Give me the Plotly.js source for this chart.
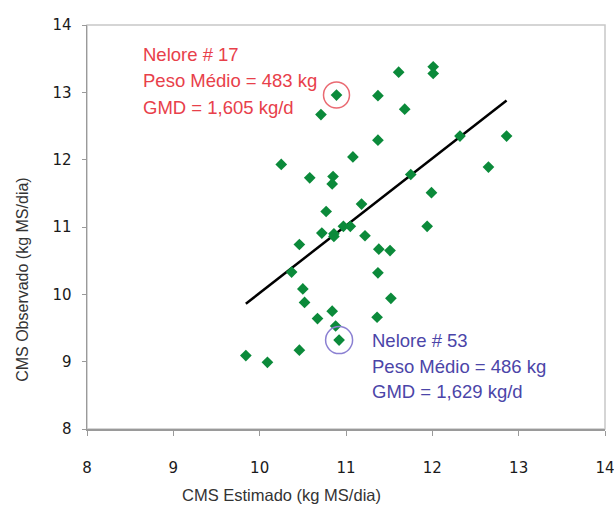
<!DOCTYPE html>
<html>
<head>
<meta charset="utf-8">
<script src="https://cdn.plot.ly/plotly-3.0.1.min.js"></script>
<style>html,body{margin:0;padding:0;background:#fff;}#chart{width:614px;height:507px;}</style>
</head>
<body>
<div id="chart"></div>
<script>
// CMS Estimado (x) vs CMS Observado (y), kg MS/dia
const estimado = [10.89, 10.71, 10.25, 11.08, 10.58, 10.85, 10.84, 10.77, 11.18, 11.61,
                  12.01, 12.01, 11.37, 11.68, 11.37, 12.86, 12.32, 12.65, 11.75, 11.99,
                  11.94, 10.97, 11.05, 10.72, 10.86, 10.86, 10.46, 10.37, 10.50, 10.52,
                  10.67, 10.84, 10.88, 10.92, 10.46, 9.84, 10.09, 11.22, 11.38, 11.51,
                  11.37, 11.52, 11.36];
const observado = [12.96, 12.67, 11.93, 12.04, 11.73, 11.75, 11.64, 11.23, 11.34, 13.30,
                   13.38, 13.28, 12.95, 12.75, 12.29, 12.35, 12.35, 11.89, 11.78, 11.51,
                   11.01, 11.01, 11.01, 10.91, 10.90, 10.86, 10.74, 10.33, 10.08, 9.88,
                   9.64, 9.75, 9.53, 9.32, 9.17, 9.09, 8.99, 10.87, 10.67, 10.65,
                   10.32, 9.94, 9.66];
// regression line end points
const lineX = [9.84, 12.86];
const lineY = [9.86, 12.88];
// highlighted animals
const nelore17X = [10.89], nelore17Y = [12.96];
const nelore53X = [10.92], nelore53Y = [9.32];
const label17 = ["Nelore # 17", "Peso Médio = 483 kg", "GMD = 1,605 kg/d"];
const label53 = ["Nelore # 53", "Peso Médio = 486 kg", "GMD = 1,629 kg/d"];
const xTicks = [8, 9, 10, 11, 12, 13, 14];
const yTicks = [8, 9, 10, 11, 12, 13, 14];

const red = '#e8404a', redRing = '#ea6a72';
const blue = '#4b45a8', blueRing = '#8b80d2';

const traces = [
  {x: lineX, y: lineY, mode: 'lines', line: {color: '#000', width: 2.5}, hoverinfo: 'skip'},
  {x: estimado, y: observado, mode: 'markers', marker: {symbol: 'diamond', size: 9, color: '#0b8a3a'}},
  {x: nelore17X, y: nelore17Y, mode: 'markers', marker: {symbol: 'circle-open', size: 26, color: redRing, line: {width: 1.5}}},
  {x: nelore53X, y: nelore53Y, mode: 'markers', marker: {symbol: 'circle-open', size: 27, color: blueRing, line: {width: 1.5}}}
];

const font = 'Liberation Sans, Arial, sans-serif';
const ann = [];
const y17 = [13.569, 13.183, 12.782];
const y53 = [9.319, 8.923, 8.551];
label17.forEach((t, i) => ann.push({x: 8.626, y: y17[i], xref: 'x', yref: 'y', text: t, showarrow: false,
  xanchor: 'left', yanchor: 'middle', font: {family: font, size: 18.5, color: red}}));
label53.forEach((t, i) => ann.push({x: 11.279, y: y53[i], xref: 'x', yref: 'y', text: t, showarrow: false,
  xanchor: 'left', yanchor: 'middle', font: {family: font, size: 18.5, color: blue}}));
ann.push({x: 0.376, y: -0.163, xref: 'paper', yref: 'paper', text: 'CMS Estimado (kg MS/dia)', showarrow: false,
  xanchor: 'center', yanchor: 'middle', font: {family: font, size: 16.5, color: '#333'}});
ann.push({x: -0.126, y: 0.371, xref: 'paper', yref: 'paper', text: 'CMS Observado (kg MS/dia)', showarrow: false,
  textangle: -90, xanchor: 'center', yanchor: 'middle', font: {family: font, size: 16, color: '#333'}});

const tickFont = {family: 'DejaVu Sans, Verdana, sans-serif', size: 15, color: '#1a1a1a'};
const layout = {
  width: 614, height: 507,
  margin: {l: 87, r: 9, t: 25, b: 78},
  paper_bgcolor: '#fff', plot_bgcolor: '#fff',
  showlegend: false,
  xaxis: {range: [8, 14], tickvals: xTicks, ticktext: xTicks.map(String), showgrid: false, zeroline: false,
    showline: true, linecolor: '#9a9a9a', linewidth: 1.5, ticks: 'outside', ticklen: 5, tickcolor: '#9a9a9a',
    tickfont: tickFont, ticklabelstandoff: 19, ticklabeloverflow: 'allow', automargin: false},
  yaxis: {range: [8, 14], tickvals: yTicks, ticktext: yTicks.map(String), showgrid: false, zeroline: false,
    showline: true, linecolor: '#9a9a9a', linewidth: 1.5, ticks: 'outside', ticklen: 4, tickcolor: '#9a9a9a',
    tickfont: tickFont, ticklabelstandoff: 7, ticklabeloverflow: 'allow', automargin: false},
  shapes: [{type: 'rect', xref: 'paper', yref: 'paper', x0: 0, x1: 1, y0: 0, y1: 1,
    line: {color: '#c8c8c8', width: 1.5}, layer: 'below'}],
  annotations: ann
};
Plotly.newPlot('chart', traces, layout, {staticPlot: true, displayModeBar: false});
</script>
</body>
</html>
